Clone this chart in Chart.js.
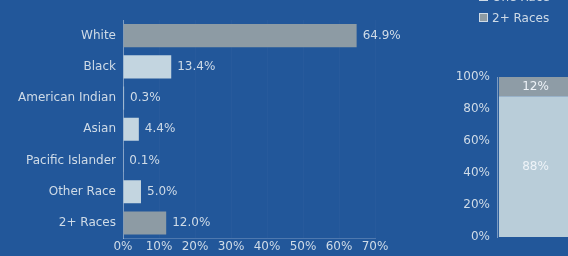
<!DOCTYPE html>
<html>
<head>
<meta charset="utf-8">
<script src="https://cdn.jsdelivr.net/npm/chart.js@4"></script>
<style>
  html, body { margin: 0; padding: 0; }
  body { width: 568px; height: 256px; overflow: hidden; background: #22579a; position: relative; font-family: 'DejaVu Sans', sans-serif; }
  #races { position: absolute; left: 0; top: 0; }
  #mix { position: absolute; left: 400px; top: 0; }
  .legend { position: absolute; left: 479px; color: #cfdbe7; font-size: 12px; line-height: 14px; white-space: nowrap; }
  .legend i { display: inline-block; width: 7px; height: 7px; margin-right: 4px; border: 1px solid #cfdbe7; vertical-align: 0; }
</style>
</head>
<body>
<canvas id="races" width="400" height="256"></canvas>
<canvas id="mix" width="174" height="256"></canvas>
<div class="legend" style="top:-10px"><i style="background:#c3d5e0"></i>One Race</div>
<div class="legend" style="top:11px"><i style="background:#8d9ba4"></i>2+ Races</div>
<script>
const categories = ['White', 'Black', 'American Indian', 'Asian', 'Pacific Islander', 'Other Race', '2+ Races'];
const shares = [64.9, 13.4, 0.3, 4.4, 0.1, 5.0, 12.0];
const barColors = ['#8d9ba4', '#c3d5e0', '#c3d5e0', '#c3d5e0', '#c3d5e0', '#c3d5e0', '#8d9ba4'];

const groups = ['One Race', '2+ Races'];
const groupShares = [88, 12];
const groupColors = ['#b9cdd9', '#8e9ca6'];

const textColor = '#cfdbe7';
const font = { family: "'DejaVu Sans', sans-serif", size: 12 };

// writes the value next to / inside each bar
const valueLabels = {
  id: 'valueLabels',
  afterDatasetsDraw(chart, args, opts) {
    const { ctx } = chart;
    ctx.save();
    ctx.font = `${font.size}px ${font.family}`;
    ctx.fillStyle = opts.color || textColor;
    ctx.textBaseline = 'middle';
    chart.data.datasets.forEach((ds, i) => {
      chart.getDatasetMeta(i).data.forEach((bar, j) => {
        const text = opts.format(ds.data[j]);
        if (opts.inside) {
          const c = bar.getCenterPoint();
          ctx.textAlign = 'center';
          ctx.fillText(text, c.x, c.y);
        } else {
          ctx.textAlign = 'left';
          ctx.fillText(text, bar.x + 6, bar.y);
        }
      });
    });
    ctx.restore();
  }
};

new Chart(document.getElementById('races'), {
  type: 'bar',
  data: {
    labels: categories,
    datasets: [{
      data: shares,
      backgroundColor: barColors,
      barPercentage: 0.74,
      categoryPercentage: 1,
    }]
  },
  options: {
    indexAxis: 'y',
    responsive: false,
    animation: false,
    layout: { padding: { top: 20, right: 25, bottom: 1, left: 0 } },
    plugins: {
      legend: { display: false },
      tooltip: { enabled: false },
      valueLabels: { format: (v) => v.toFixed(1) + '%' },
    },
    scales: {
      x: {
        min: 0,
        max: 70,
        ticks: { stepSize: 10, color: textColor, font, padding: 1, callback: (v) => v + '%' },
        grid: { color: 'rgba(255,255,255,0.025)', drawTicks: false },
        border: { color: 'rgba(255,255,255,0.2)' },
      },
      y: {
        afterFit: (scale) => { scale.width = 123; },
        ticks: { color: textColor, font, padding: 7 },
        grid: { display: false, drawTicks: false },
        border: { color: 'rgba(255,255,255,0.4)' },
      }
    }
  },
  plugins: [valueLabels]
});

new Chart(document.getElementById('mix'), {
  type: 'bar',
  data: {
    labels: ['Population'],
    datasets: groups.map((g, i) => ({
      label: g,
      data: [groupShares[i]],
      backgroundColor: groupColors[i],
      barPercentage: 1,
      categoryPercentage: 0.95,
    }))
  },
  options: {
    responsive: false,
    animation: false,
    layout: { padding: { top: 77, right: 0, bottom: 19, left: 0 } },
    plugins: {
      legend: { display: false },
      tooltip: { enabled: false },
      valueLabels: { inside: true, color: '#eef3f8', format: (v) => v + '%' },
    },
    scales: {
      x: { stacked: true, display: false },
      y: {
        stacked: true,
        min: 0,
        max: 100,
        afterFit: (scale) => { scale.width = 97; },
        ticks: { stepSize: 20, color: textColor, font, padding: 7, callback: (v) => v + '%' },
        grid: { display: false, drawTicks: false },
        border: { color: 'rgba(255,255,255,0.4)' },
      }
    }
  },
  plugins: [valueLabels]
});
</script>
</body>
</html>
